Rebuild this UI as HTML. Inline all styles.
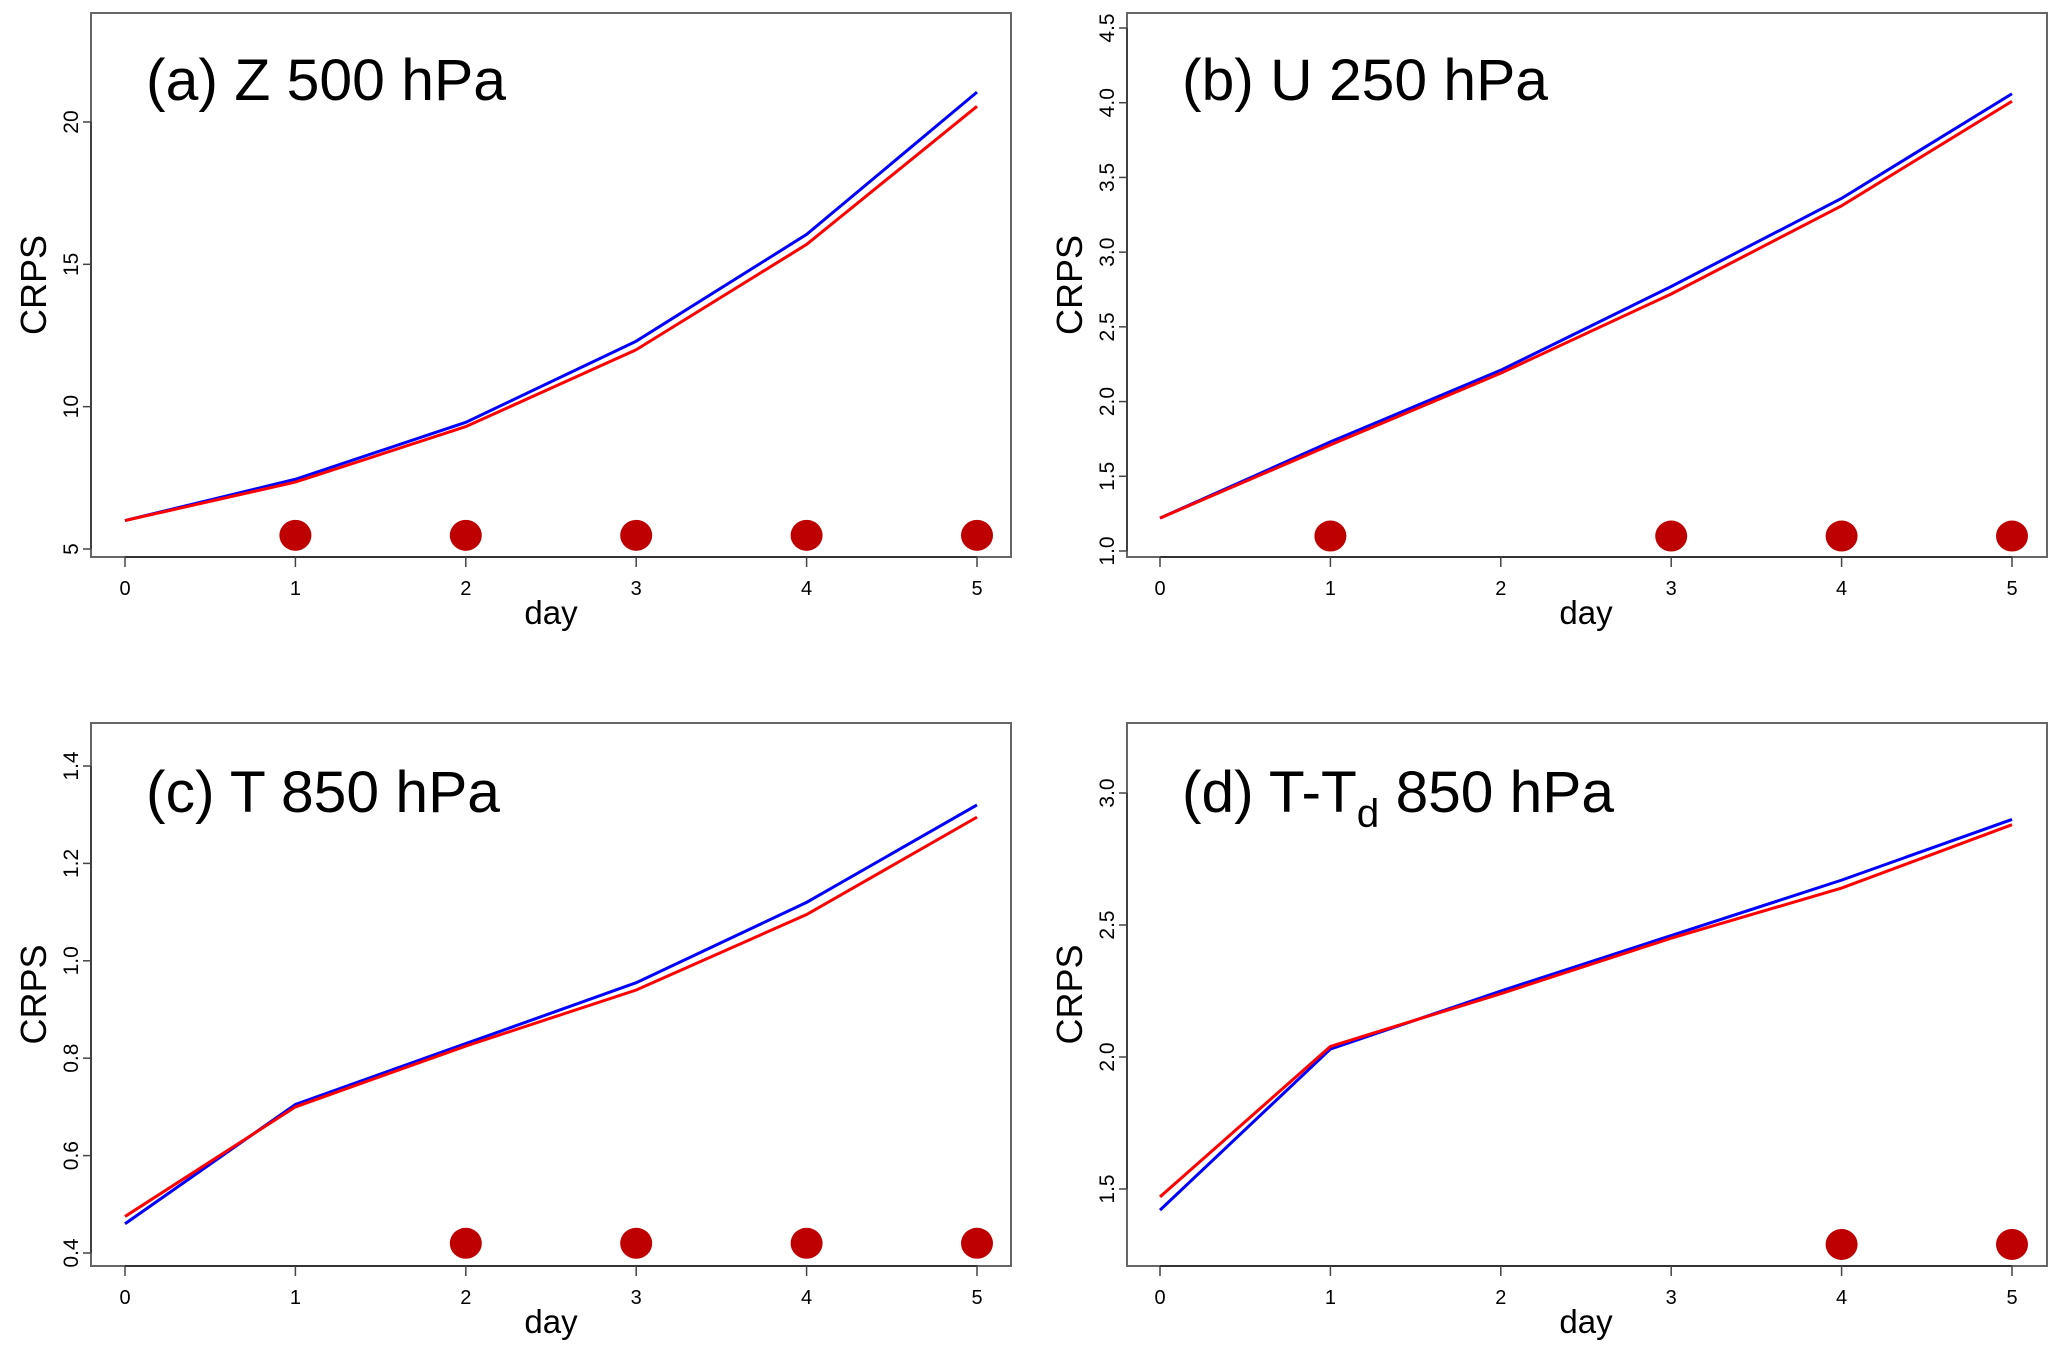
<!DOCTYPE html>
<html><head><meta charset="utf-8"><style>
html,body{margin:0;padding:0;background:#fff}
svg{display:block}
text{font-family:"Liberation Sans",sans-serif}
</style></head><body>
<svg id="fig" width="2067" height="1355" viewBox="0 0 2067 1355" xmlns="http://www.w3.org/2000/svg"></svg>
<script>
const days = [0,1,2,3,4,5];
const aBlue = [6.0,7.45,9.45,12.3,16.05,21.05];
const aRed = [6.0,7.35,9.3,12.0,15.7,20.55];
const aDots = [1,2,3,4,5];
const aTicks = [5,10,15,20];
const bBlue = [1.22,1.73,2.21,2.77,3.36,4.06];
const bRed = [1.22,1.71,2.19,2.72,3.31,4.01];
const bDots = [1,3,4,5];
const bTicks = [1.0,1.5,2.0,2.5,3.0,3.5,4.0,4.5];
const cBlue = [0.46,0.705,0.83,0.955,1.12,1.32];
const cRed = [0.475,0.70,0.825,0.94,1.095,1.295];
const cDots = [2,3,4,5];
const cTicks = [0.4,0.6,0.8,1.0,1.2,1.4];
const dBlue = [1.42,2.03,2.25,2.46,2.67,2.90];
const dRed = [1.47,2.04,2.24,2.45,2.64,2.88];
const dDots = [4,5];
const dTicks = [1.5,2.0,2.5,3.0];

const NS="http://www.w3.org/2000/svg";
const svg=document.getElementById('fig');
function mk(tag,attrs,parent){const e=document.createElementNS(NS,tag);for(const k in attrs)e.setAttribute(k,attrs[k]);(parent||svg).appendChild(e);return e;}

const panels=[
 {id:'a',title:'(a) Z 500 hPa',left:91,right:1011,top:13,bottom:557,x0:125,x5:977,v1:5,p1:549,v2:20,p2:122,blue:aBlue,red:aRed,dots:aDots,dotY:5.48,ticks:aTicks,dec:0,tx:146,ty:100,tw:360},
 {id:'b',title:'(b) U 250 hPa',left:1127,right:2047,top:13,bottom:557,x0:1160,x5:2012,v1:1.0,p1:551,v2:4.5,p2:28,blue:bBlue,red:bRed,dots:bDots,dotY:1.10,ticks:bTicks,dec:1,tx:1182,ty:100,tw:366},
 {id:'c',title:'(c) T 850 hPa',left:91,right:1011,top:723,bottom:1266,x0:125,x5:977,v1:0.4,p1:1253,v2:1.4,p2:766,blue:cBlue,red:cRed,dots:cDots,dotY:0.42,ticks:cTicks,dec:1,tx:146,ty:812,tw:354},
 {id:'d',title:null,left:1127,right:2047,top:723,bottom:1266,x0:1160,x5:2012,v1:1.5,p1:1189,v2:3.0,p2:793,blue:dBlue,red:dRed,dots:dDots,dotY:1.29,ticks:dTicks,dec:1,tx:1182,ty:812,tw:0}
];

panels.forEach(p=>{
  const g=mk('g',{});
  
  
  const X=d=>p.x0+(p.x5-p.x0)*d/5;
  const Y=v=>p.p1+(p.p2-p.p1)*(v-p.v1)/(p.v2-p.v1);
  const box=mk('rect',{x:p.left,y:p.top,width:p.right-p.left,height:p.bottom-p.top,fill:'none',stroke:'#666','stroke-width':2},g);
  
  
  const xa=mk('g',{},g);
  
  
  mk('line',{x1:X(0),x2:X(5),y1:p.bottom,y2:p.bottom,stroke:'#333','stroke-width':2},xa);
  days.forEach(d=>{
    mk('line',{x1:X(d),x2:X(d),y1:p.bottom,y2:p.bottom+10,stroke:'#444','stroke-width':1.5},xa);
    const t=mk('text',{x:X(d),y:p.bottom+38,'font-size':20,'text-anchor':'middle',fill:'#000'},xa);
    t.textContent=d;
    
    
  });
  const cx=(X(0)+X(5))/2;
  const xl=mk('text',{x:cx,y:p.bottom+67,'font-size':33,'text-anchor':'middle',fill:'#000'},g);
  xl.textContent='day';
  
  
  const ya=mk('g',{},g);
  
  
  mk('line',{x1:p.left,x2:p.left,y1:Y(p.ticks[0]),y2:Y(p.ticks[p.ticks.length-1]),stroke:'#333','stroke-width':1.5},ya);
  p.ticks.forEach(v=>{
    mk('line',{x1:p.left-8,x2:p.left,y1:Y(v),y2:Y(v),stroke:'#444','stroke-width':1.5},ya);
    const tx=p.left-13, ty=Y(v);
    const t=mk('text',{x:tx,y:ty,'font-size':21,'text-anchor':'middle',fill:'#000',transform:`rotate(-90 ${tx} ${ty})`},ya);
    t.textContent=v.toFixed(p.dec);
    
    
  });
  const yx=p.left-45, yy=(p.top+p.bottom)/2;
  const yl=mk('text',{x:yx,y:yy,'font-size':36,'text-anchor':'middle',fill:'#000',transform:`rotate(-90 ${yx} ${yy})`},g);
  yl.textContent='CRPS';
  
  
  const bl=mk('polyline',{points:days.map(d=>X(d)+','+Y(p.blue[d])).join(' '),fill:'none',stroke:'#0000ff','stroke-width':3},g);
  
  
  const rl=mk('polyline',{points:days.map(d=>X(d)+','+Y(p.red[d])).join(' '),fill:'none',stroke:'#ff0000','stroke-width':3},g);
  
  
  p.dots.forEach(d=>{
    const c=mk('ellipse',{cx:X(d),cy:Y(p.dotY),rx:16,ry:15.5,fill:'#bf0000'},g);
    
    
  });
  if(p.title){
    const t=mk('text',{x:p.tx,y:p.ty,'font-size':58,fill:'#000',textLength:p.tw,lengthAdjust:'spacingAndGlyphs'},g);
    t.textContent=p.title;
    
    
  } else {
    const t=mk('text',{x:p.tx,y:p.ty,'font-size':58,fill:'#000'},g);
    
    
    const s1=mk('tspan',{},t);s1.textContent='(d) T-T';
    const s2=mk('tspan',{dy:15,'font-size':40},t);s2.textContent='d';
    const s3=mk('tspan',{dy:-15},t);s3.textContent=' 850 hPa';
    t.setAttribute('textLength',432);
    t.setAttribute('lengthAdjust','spacingAndGlyphs');
  }
});
</script>
</body></html>
